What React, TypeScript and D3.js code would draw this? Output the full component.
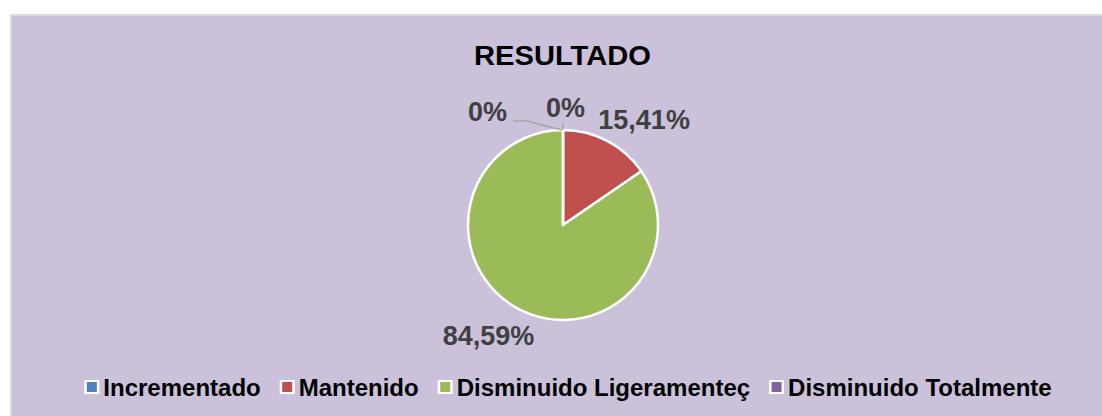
import React, { useEffect, useRef } from "react";
import * as d3 from "d3";

const categories = ["Incrementado", "Mantenido", "Disminuido Ligeramenteç", "Disminuido Totalmente"];
const values = [0, 15.41, 84.59, 0];
const labels = ["0%", "15,41%", "84,59%", "0%"];
const colors = ["#4F81BD", "#C0504D", "#9BBB59", "#8064A2"];
const title = "RESULTADO";

const W = 1102;
const H = 416;

export default function App() {
  const ref = useRef<SVGSVGElement | null>(null);

  useEffect(() => {
    const svg = d3.select(ref.current);
    svg.selectAll("*").remove();

    // background
    svg.append("rect").attr("x", 10).attr("y", 14).attr("width", W - 10).attr("height", H - 14).attr("fill", "#D9D9D9");
    svg.append("rect").attr("x", 12).attr("y", 16).attr("width", W - 12).attr("height", H - 16).attr("fill", "#CBC1DB");

    // title
    svg.append("text")
      .attr("x", 562.5).attr("y", 65)
      .attr("text-anchor", "middle")
      .attr("font-family", "'Liberation Sans', Arial, sans-serif")
      .attr("font-weight", "bold")
      .attr("font-size", 27)
      .attr("textLength", 177)
      .attr("lengthAdjust", "spacingAndGlyphs")
      .attr("fill", "#000")
      .text(title);

    const cx = 563, cy = 225, r = 95;
    const pie = d3.pie<number>().sort(null).value((d) => d);
    const arcs = pie(values);
    const arc = d3.arc<d3.PieArcDatum<number>>().innerRadius(0).outerRadius(r);
    const g = svg.append("g").attr("transform", `translate(${cx},${cy})`);
    g.selectAll("path.slice")
      .data(arcs)
      .join("path")
      .attr("class", "slice")
      .attr("d", arc as any)
      .attr("fill", (_d, i) => colors[i])
      .attr("stroke", "#fff")
      .attr("stroke-width", 2.5)
      .attr("stroke-linejoin", "round");

    // leader line for the left 0% label
    const top = d3.pointRadial(arcs[3].startAngle, r);
    const leader = d3.line()([
      [-50, -104],
      [-36, -104],
      [top[0] - 1, top[1]],
    ]);
    g.append("path").attr("d", leader).attr("fill", "none").attr("stroke", "#A6A6A6").attr("stroke-width", 1.5);
    g.append("line").attr("x1", 0).attr("x2", 0).attr("y1", top[1] - 7).attr("y2", top[1]).attr("stroke", "#A6A6A6").attr("stroke-width", 1.5);

    // data labels (baseline positioned)
    const labelArc = d3.arc<d3.PieArcDatum<number>>().innerRadius(130).outerRadius(130);
    const nudges: [number, number][] = [[2.5, 22], [20.6, 19], [-14, 5], [-75.5, 26]];
    arcs.forEach((a, i) => {
      const [x, y] = labelArc.centroid(a);
      g.append("text")
        .attr("x", x + nudges[i][0])
        .attr("y", y + nudges[i][1])
        .attr("text-anchor", "middle")
        .attr("font-family", "'Liberation Sans', Arial, sans-serif")
        .attr("font-weight", "bold")
        .attr("font-size", 27)
        .attr("fill", "#404040")
        .text(labels[i]);
    });

    // legend
    const lg = svg.append("g");
    const items = lg.selectAll("g.item").data(categories).join("g").attr("class", "item");
    items.append("rect").attr("x", 0).attr("y", 380).attr("width", 15).attr("height", 14).attr("fill", "#fff");
    items.append("rect").attr("x", 2.5).attr("y", 382).attr("width", 10).attr("height", 10).attr("fill", (_d, i) => colors[i]);
    const texts = items.append("text")
      .attr("x", 19).attr("y", 396)
      .attr("font-family", "'Liberation Sans', Arial, sans-serif")
      .attr("font-weight", "bold")
      .attr("font-size", 24)
      .attr("fill", "#000")
      .text((d) => d);
    const widths: number[] = [];
    texts.each(function () {
      widths.push((this as SVGTextElement).getComputedTextLength());
    });
    const gap = 19;
    const itemW = widths.map((w) => 19 + w);
    const total = d3.sum(itemW) + gap * (itemW.length - 1);
    let x = 568 - total / 2;
    items.each(function (_d, i) {
      d3.select(this).attr("transform", `translate(${x},0)`);
      x += itemW[i] + gap;
    });
  }, []);

  return (
    <svg ref={ref} width={W} height={H} style={{ position: "absolute", left: 0, top: 0, display: "block" }} />
  );
}
